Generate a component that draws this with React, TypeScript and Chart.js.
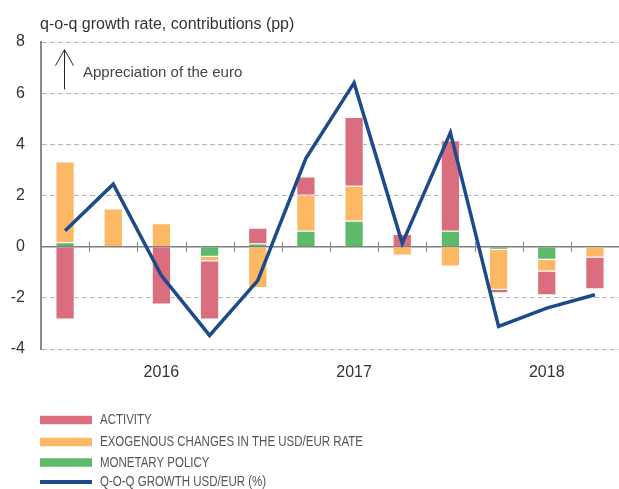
import { useEffect, useRef } from 'react';
import { Chart, registerables } from 'chart.js';

Chart.register(...registerables);

const tickLabels = ['', '', '2016', '', '', '', '2017', '', '', '', '2018', ''];
const monetaryPolicy = [0.17, 0, 0, -0.39, 0.12, 0.62, 1.01, 0, 0.62, -0.12, -0.51, 0.04];
const exogenousUsdEur = [3.16, 1.49, 0.92, -0.18, -1.62, 1.41, 1.37, -0.35, -0.78, -1.56, -0.46, -0.42];
const activity = [-2.85, -0.05, -2.26, -2.28, 0.62, 0.71, 2.69, 0.5, 3.54, -0.14, -0.93, -1.24];
const growthUsdEur = [0.62, 2.44, -1.13, -3.47, -1.33, 3.45, 6.4, 0.13, 4.46, -3.12, -2.4, -1.88];

const legendLabels = [
  'ACTIVITY',
  'EXOGENOUS CHANGES IN THE USD/EUR RATE',
  'MONETARY POLICY',
  'Q-O-Q GROWTH USD/EUR (%)',
];
const titleText = 'q-o-q growth rate, contributions (pp)';
const annotationText = 'Appreciation of the euro';

const RED = '#DB6E7E';
const ORANGE = '#FDB865';
const GREEN = '#5DBA6B';
const BLUE = '#1C4A8A';
const FONT = '"Liberation Sans", Arial, Helvetica, sans-serif';

const decorPlugin = {
  id: 'decor',
  beforeDatasetsDraw(chart: any) {
    const { ctx, chartArea, scales } = chart;
    const x = scales.x;
    const y = scales.y;
    const y0 = y.getPixelForValue(0);
    ctx.save();
    ctx.strokeStyle = '#7d7d7d';
    ctx.lineWidth = 1.5;
    ctx.beginPath();
    ctx.moveTo(chartArea.left, y0);
    ctx.lineTo(chartArea.right, y0);
    ctx.stroke();
    ctx.lineWidth = 1.2;
    ctx.strokeStyle = '#8f8f8f';
    ctx.beginPath();
    for (let i = 1; i < tickLabels.length; i++) {
      const px = Math.round((x.getPixelForValue(i - 1) + x.getPixelForValue(i)) / 2) + 0.5;
      ctx.moveTo(px, y0 - 5);
      ctx.lineTo(px, y0 + 5);
    }
    ctx.stroke();
    ctx.restore();
  },
  afterDraw(chart: any) {
    const { ctx, chartArea, scales } = chart;
    const y = scales.y;
    ctx.save();
    // title
    ctx.fillStyle = '#333333';
    ctx.font = `16px ${FONT}`;
    ctx.textAlign = 'left';
    ctx.textBaseline = 'middle';
    ctx.fillText(titleText, 40, 25);

    // annotation arrow
    const ax = chartArea.left + 23.5;
    const top = y.getPixelForValue(7.7);
    const bottom = y.getPixelForValue(6.15);
    ctx.strokeStyle = '#222';
    ctx.lineWidth = 1;
    ctx.beginPath();
    ctx.moveTo(ax, bottom);
    ctx.lineTo(ax, top);
    ctx.moveTo(ax - 9, top + 16);
    ctx.lineTo(ax, top);
    ctx.lineTo(ax + 9, top + 16);
    ctx.stroke();
    ctx.fillStyle = '#444';
    ctx.font = `15px ${FONT}`;
    ctx.fillText(annotationText, 83, y.getPixelForValue(6.8));

    // legend
    const colors = [RED, ORANGE, GREEN, BLUE];
    const rowY = [420, 442, 462.5, 482];
    ctx.font = `15px ${FONT}`;
    const longest = ctx.measureText(legendLabels[1]).width;
    const factor = 263 / longest;
    legendLabels.forEach((label, i) => {
      ctx.fillStyle = colors[i];
      const h = i === 3 ? 4 : 8.5;
      ctx.fillRect(40, rowY[i] - h / 2, 52, h);
      ctx.fillStyle = '#555';
      const w = ctx.measureText(label).width;
      ctx.fillText(label, 100, rowY[i], w * factor);
    });
    ctx.restore();
  },
};

export default function App() {
  const ref = useRef<HTMLCanvasElement>(null);
  useEffect(() => {
    document.body.style.margin = '0';
    const canvas = ref.current;
    if (!canvas) return;
    const chart = new Chart(canvas, {
      type: 'bar',
      data: {
        labels: tickLabels,
        datasets: [
          {
            type: 'line',
            label: legendLabels[3],
            data: growthUsdEur,
            borderColor: BLUE,
            backgroundColor: BLUE,
            borderWidth: 3.5,
            pointRadius: 0,
            tension: 0,
            stack: 'line',
            order: 0,
          },
          {
            type: 'bar',
            label: legendLabels[2],
            data: monetaryPolicy,
            backgroundColor: GREEN,
            borderColor: 'rgba(255,255,255,0.45)',
            borderWidth: 1,
            stack: 'contrib',
            order: 1,
          },
          {
            type: 'bar',
            label: legendLabels[1],
            data: exogenousUsdEur,
            backgroundColor: ORANGE,
            borderColor: 'rgba(255,255,255,0.45)',
            borderWidth: 1,
            stack: 'contrib',
            order: 1,
          },
          {
            type: 'bar',
            label: legendLabels[0],
            data: activity,
            backgroundColor: RED,
            borderColor: 'rgba(255,255,255,0.45)',
            borderWidth: 1,
            stack: 'contrib',
            order: 1,
          },
        ],
      } as any,
      options: {
        animation: false,
        responsive: false,
        maintainAspectRatio: false,
        layout: { padding: { top: 42, left: 0, right: 0, bottom: 100 } },
        plugins: {
          legend: { display: false },
          tooltip: { enabled: false },
          title: { display: false },
        },
        datasets: {
          bar: { categoryPercentage: 0.8, barPercentage: 0.5 },
        },
        scales: {
          x: {
            stacked: true,
            offset: true,
            grid: { display: false, drawTicks: false },
            border: { display: false },
            ticks: {
              autoSkip: false,
              maxRotation: 0,
              padding: 14,
              color: '#333',
              font: { family: FONT, size: 16 },
            },
            afterFit: (s: any) => {
              s.height = 40;
            },
          },
          y: {
            stacked: true,
            min: -4,
            max: 8,
            ticks: {
              stepSize: 2,
              padding: 16,
              color: '#333',
              font: { family: FONT, size: 16 },
            },
            grid: { color: '#b5b5b5', lineWidth: 1, drawTicks: false },
            border: { display: true, color: '#8a8a8a', width: 2, dash: [5, 3] },
            afterFit: (s: any) => {
              s.width = 41;
            },
          },
        },
      } as any,
      plugins: [decorPlugin],
    });
    return () => chart.destroy();
  }, []);
  return (
    <div style={{ width: 619, height: 489, position: 'relative' }}>
      <canvas ref={ref} width={619} height={489} style={{ display: 'block' }} />
    </div>
  );
}
